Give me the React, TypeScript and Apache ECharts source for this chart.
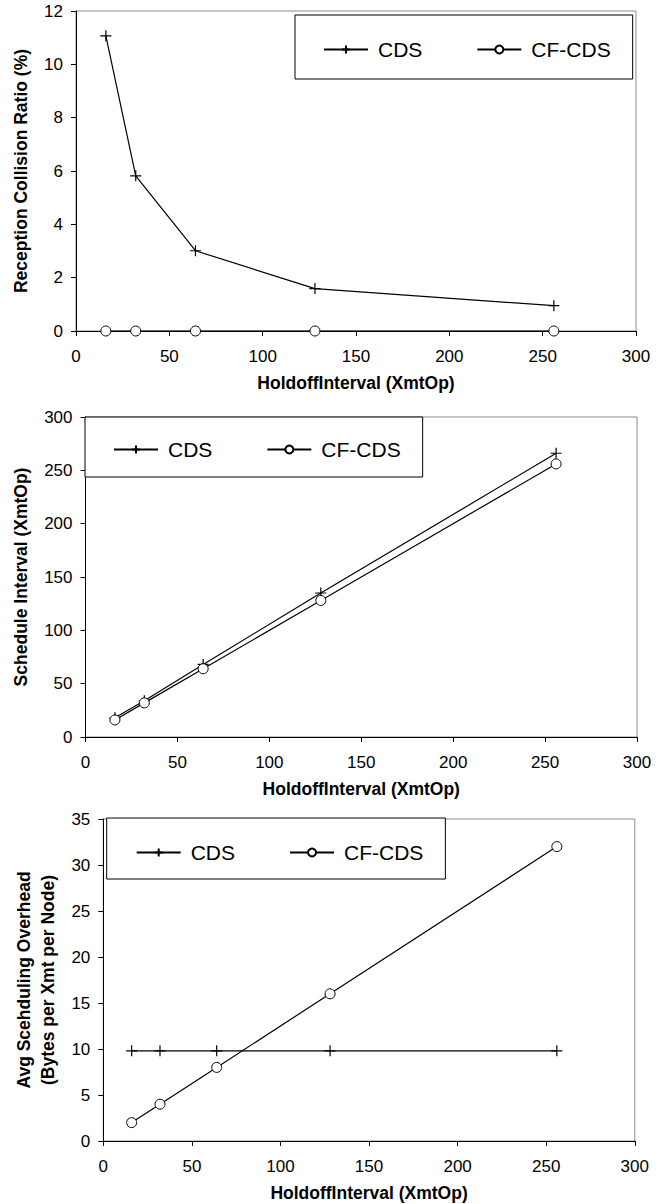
import React, { useEffect, useRef } from "react";
import * as echarts from "echarts";

// ---- data ----
const holdoffInterval = [16, 32, 64, 128, 256];
const collisionCDS = [11.07, 5.82, 3.01, 1.59, 0.95];
const collisionCFCDS = [0, 0, 0, 0, 0];
const scheduleCDS = [18, 34, 68, 135, 266];
const scheduleCFCDS = [16, 32, 64, 128, 256];
const overheadCDS = [9.8, 9.8, 9.8, 9.8, 9.8];
const overheadCFCDS = [2, 4, 8, 16, 32];

const seriesNames = ["CDS", "CF-CDS"];
const xAxisTitle = "HoldoffInterval (XmtOp)";
const yAxisTitles = [
  "Reception Collision Ratio (%)",
  "Schedule Interval (XmtOp)",
  "Avg Scehduling Overhead\n(Bytes per Xmt per Node)",
];
const xRange = { min: 0, max: 300, interval: 50 };
const yRanges = [
  { min: 0, max: 12, interval: 2 },
  { min: 0, max: 300, interval: 50 },
  { min: 0, max: 35, interval: 5 },
];

const FONT = "'Liberation Sans', Arial, Helvetica, sans-serif";
const CROSS = "path://M5 0 L5 10 M0 5 L10 5";

const grids = [
  { left: 76, top: 11, width: 560, height: 320 },
  { left: 85.5, top: 417, width: 551.5, height: 320 },
  { left: 103.3, top: 819, width: 531.5, height: 322 },
];
const legendBoxes = [
  { left: 295, top: 15, padding: [24, 22, 19, 28] },
  { left: 85, top: 417, padding: [22, 22, 17, 28] },
  { left: 106.7, top: 818, padding: [24, 22, 16, 29] },
];
const yNameGaps = [40, 47, 37];

function pairs(xs: number[], ys: number[]) {
  return xs.map((x, i) => [x, ys[i]]);
}

export default function App() {
  const ref = useRef<HTMLDivElement>(null);
  useEffect(() => {
    if (!ref.current) return;
    const chart = echarts.init(ref.current, undefined, { renderer: "svg" });
    const data = [
      [collisionCDS, collisionCFCDS],
      [scheduleCDS, scheduleCFCDS],
      [overheadCDS, overheadCFCDS],
    ];
    const series: any[] = [];
    data.forEach((pair, gi) => {
      series.push({
        name: seriesNames[0],
        type: "line",
        xAxisIndex: gi,
        yAxisIndex: gi,
        data: pairs(holdoffInterval, pair[0]),
        symbol: CROSS,
        symbolSize: 11,
        lineStyle: { color: "#000", width: 1.2 },
        itemStyle: { color: "#000", borderColor: "#000", borderWidth: 1.2 },
        z: 3,
      });
      series.push({
        name: seriesNames[1],
        type: "line",
        xAxisIndex: gi,
        yAxisIndex: gi,
        data: pairs(holdoffInterval, pair[1]),
        symbol: "circle",
        symbolSize: 10,
        lineStyle: { color: "#000", width: 1.2 },
        itemStyle: { color: "#fff", borderColor: "#000", borderWidth: 1 },
        z: 4,
      });
    });
    const axisCommon = {
      type: "value",
      splitLine: { show: false },
      axisLine: { show: true, lineStyle: { color: "#000", width: 1 } },
      axisTick: { show: true, inside: false, length: 5, lineStyle: { color: "#000" } },
    };
    chart.setOption({
      animation: false,
      backgroundColor: "#fff",
      grid: grids.map((g) => ({
        ...g,
        show: true,
        borderColor: "#8c8c8c",
        borderWidth: 1,
        backgroundColor: "#fff",
        containLabel: false,
      })),
      xAxis: grids.map((_, i) => ({
        ...axisCommon,
        gridIndex: i,
        ...xRange,
        name: xAxisTitle,
        nameLocation: "middle",
        nameGap: 43,
        nameTextStyle: { fontFamily: FONT, fontSize: 17.5, fontWeight: "bold", color: "#000" },
        axisLabel: { fontFamily: FONT, fontSize: 17, color: "#000", margin: 17 },
      })),
      yAxis: grids.map((_, i) => ({
        ...axisCommon,
        gridIndex: i,
        ...yRanges[i],
        name: yAxisTitles[i],
        nameLocation: "middle",
        nameGap: yNameGaps[i],
        nameTextStyle: {
          fontFamily: FONT,
          fontSize: 17.5,
          fontWeight: "bold",
          color: "#000",
          lineHeight: 24,
        },
        axisLabel: { fontFamily: FONT, fontSize: 17, color: "#000", margin: 13 },
      })),
      legend: legendBoxes.map((b) => ({
        data: seriesNames,
        left: b.left,
        top: b.top,
        padding: b.padding,
        orient: "horizontal",
        itemWidth: 44,
        itemHeight: 10,
        itemGap: 54,
        borderColor: "#000",
        borderWidth: 1,
        borderRadius: 0,
        backgroundColor: "#fff",
        selectedMode: false,
        textStyle: { fontFamily: FONT, fontSize: 21, color: "#000", padding: [0, 0, 0, 5] },
        z: 10,
      })),
      series,
    });
    return () => chart.dispose();
  }, []);
  return (
    <div
      ref={ref}
      style={{ position: "fixed", left: 0, top: 0, width: 668, height: 1204, background: "#fff" }}
    />
  );
}
